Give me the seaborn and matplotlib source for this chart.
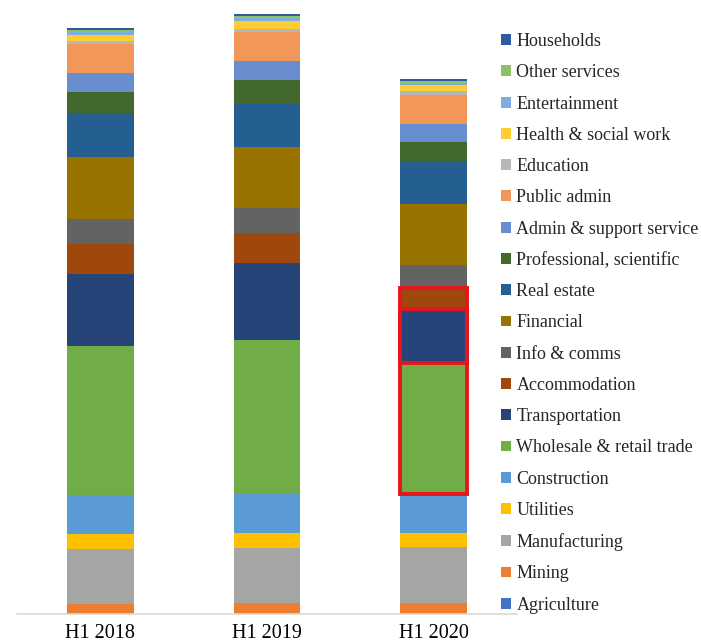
import matplotlib
matplotlib.use("Agg")
import matplotlib.pyplot as plt
import matplotlib.patches as mpatches
import seaborn as sns
import numpy as np
import pandas as pd

periods = ["H1 2018", "H1 2019", "H1 2020"]

sectors = [
    "Agriculture", "Mining", "Manufacturing", "Utilities", "Construction",
    "Wholesale & retail trade", "Transportation", "Accommodation", "Info & comms",
    "Financial", "Real estate", "Professional, scientific", "Admin & support service",
    "Public admin", "Education", "Health & social work", "Entertainment",
    "Other services", "Households",
]

agriculture = [0.5, 0.5, 0.5]
mining = [10, 11, 11]
manufacturing = [55, 55, 56]
utilities = [15, 15, 14]
construction = [39, 40, 39]
wholesale = [149, 153, 131]
transportation = [72, 77, 54]
accommodation = [30, 30, 21]
info_comms = [25, 25, 23]
financial = [62, 61, 61]
real_estate = [44, 44, 43]
professional = [21, 23, 19]
admin_support = [19, 19, 18]
public_admin = [29, 29, 29]
education = [3, 3, 4]
health = [6, 8, 6]
entertainment = [2.5, 2.5, 1.5]
other_services = [2.5, 2.5, 2.5]
households = [2, 2, 2]

values = [agriculture, mining, manufacturing, utilities, construction, wholesale,
          transportation, accommodation, info_comms, financial, real_estate,
          professional, admin_support, public_admin, education, health,
          entertainment, other_services, households]

colors = ["#4472C4", "#ED7D31", "#A5A5A5", "#FFC000", "#5B9BD5", "#70AD47",
          "#264478", "#9E480E", "#636363", "#997300", "#255E91", "#43682B",
          "#698ED0", "#F1975A", "#B7B7B7", "#FFCD33", "#7CAFDD", "#8CC168",
          "#335AA1"]

sns.set_style("white")
plt.rcParams["font.family"] = ["Liberation Serif", "DejaVu Serif"]

fig = plt.figure(figsize=(7.01, 6.42), dpi=100)
ax = fig.add_axes([17 / 701, 28 / 642, 500 / 701, 609 / 642])

bottom = np.zeros(len(periods))
cum_bottoms = []
handles = []
for name, vals, col in zip(sectors, values, colors):
    df = pd.DataFrame({"period": periods, "value": vals})
    sns.barplot(data=df, x="period", y="value", bottom=bottom.copy(), color=col,
                saturation=1, width=0.4, linewidth=0, errorbar=None, ax=ax)
    cum_bottoms.append(bottom.copy())
    bottom = bottom + np.array(vals, dtype=float)
    handles.append(mpatches.Patch(facecolor=col, edgecolor="none", label=name))

# Highlight boxes on H1 2020
i_w = sectors.index("Wholesale & retail trade")
i_t = sectors.index("Transportation")
i_a = sectors.index("Accommodation")
x0 = 2 - 0.2
y_low = cum_bottoms[i_w][2]
y_high = cum_bottoms[i_a][2] + accommodation[2]
ax.add_patch(mpatches.Rectangle((x0, y_low), 0.4, y_high - y_low, fill=False,
                                edgecolor="#E8141B", linewidth=2.8, zorder=5))
ax.add_patch(mpatches.Rectangle((x0, cum_bottoms[i_t][2]), 0.4, transportation[2],
                                fill=False, edgecolor="#E8141B", linewidth=2.8, zorder=5))

ax.set_xlim(-0.5, 2.5)
ax.set_ylim(0, 609)
ax.set_xlabel("")
ax.set_ylabel("")
ax.set_yticks([])
for s in ["left", "right", "top"]:
    ax.spines[s].set_visible(False)
ax.spines["bottom"].set_color("#D9D9D9")
ax.spines["bottom"].set_linewidth(1.2)
ax.tick_params(axis="x", which="major", length=0, labelsize=14.5, pad=7, labelcolor="black")
ax.set_xticks([-0.5, 0.5, 1.5, 2.5], minor=True)
ax.tick_params(axis="x", which="minor", length=4, color="#D9D9D9", width=1.2, direction="out")

leg = fig.legend(handles=handles[::-1], loc="upper left",
                 bbox_to_anchor=(501 / 701, 1 - 33 / 642), frameon=False,
                 fontsize=13, handlelength=0.55, handleheight=0.55,
                 handletextpad=0.3, labelspacing=0.79, borderpad=0,
                 borderaxespad=0)

fig.savefig("out.png", dpi=100)
